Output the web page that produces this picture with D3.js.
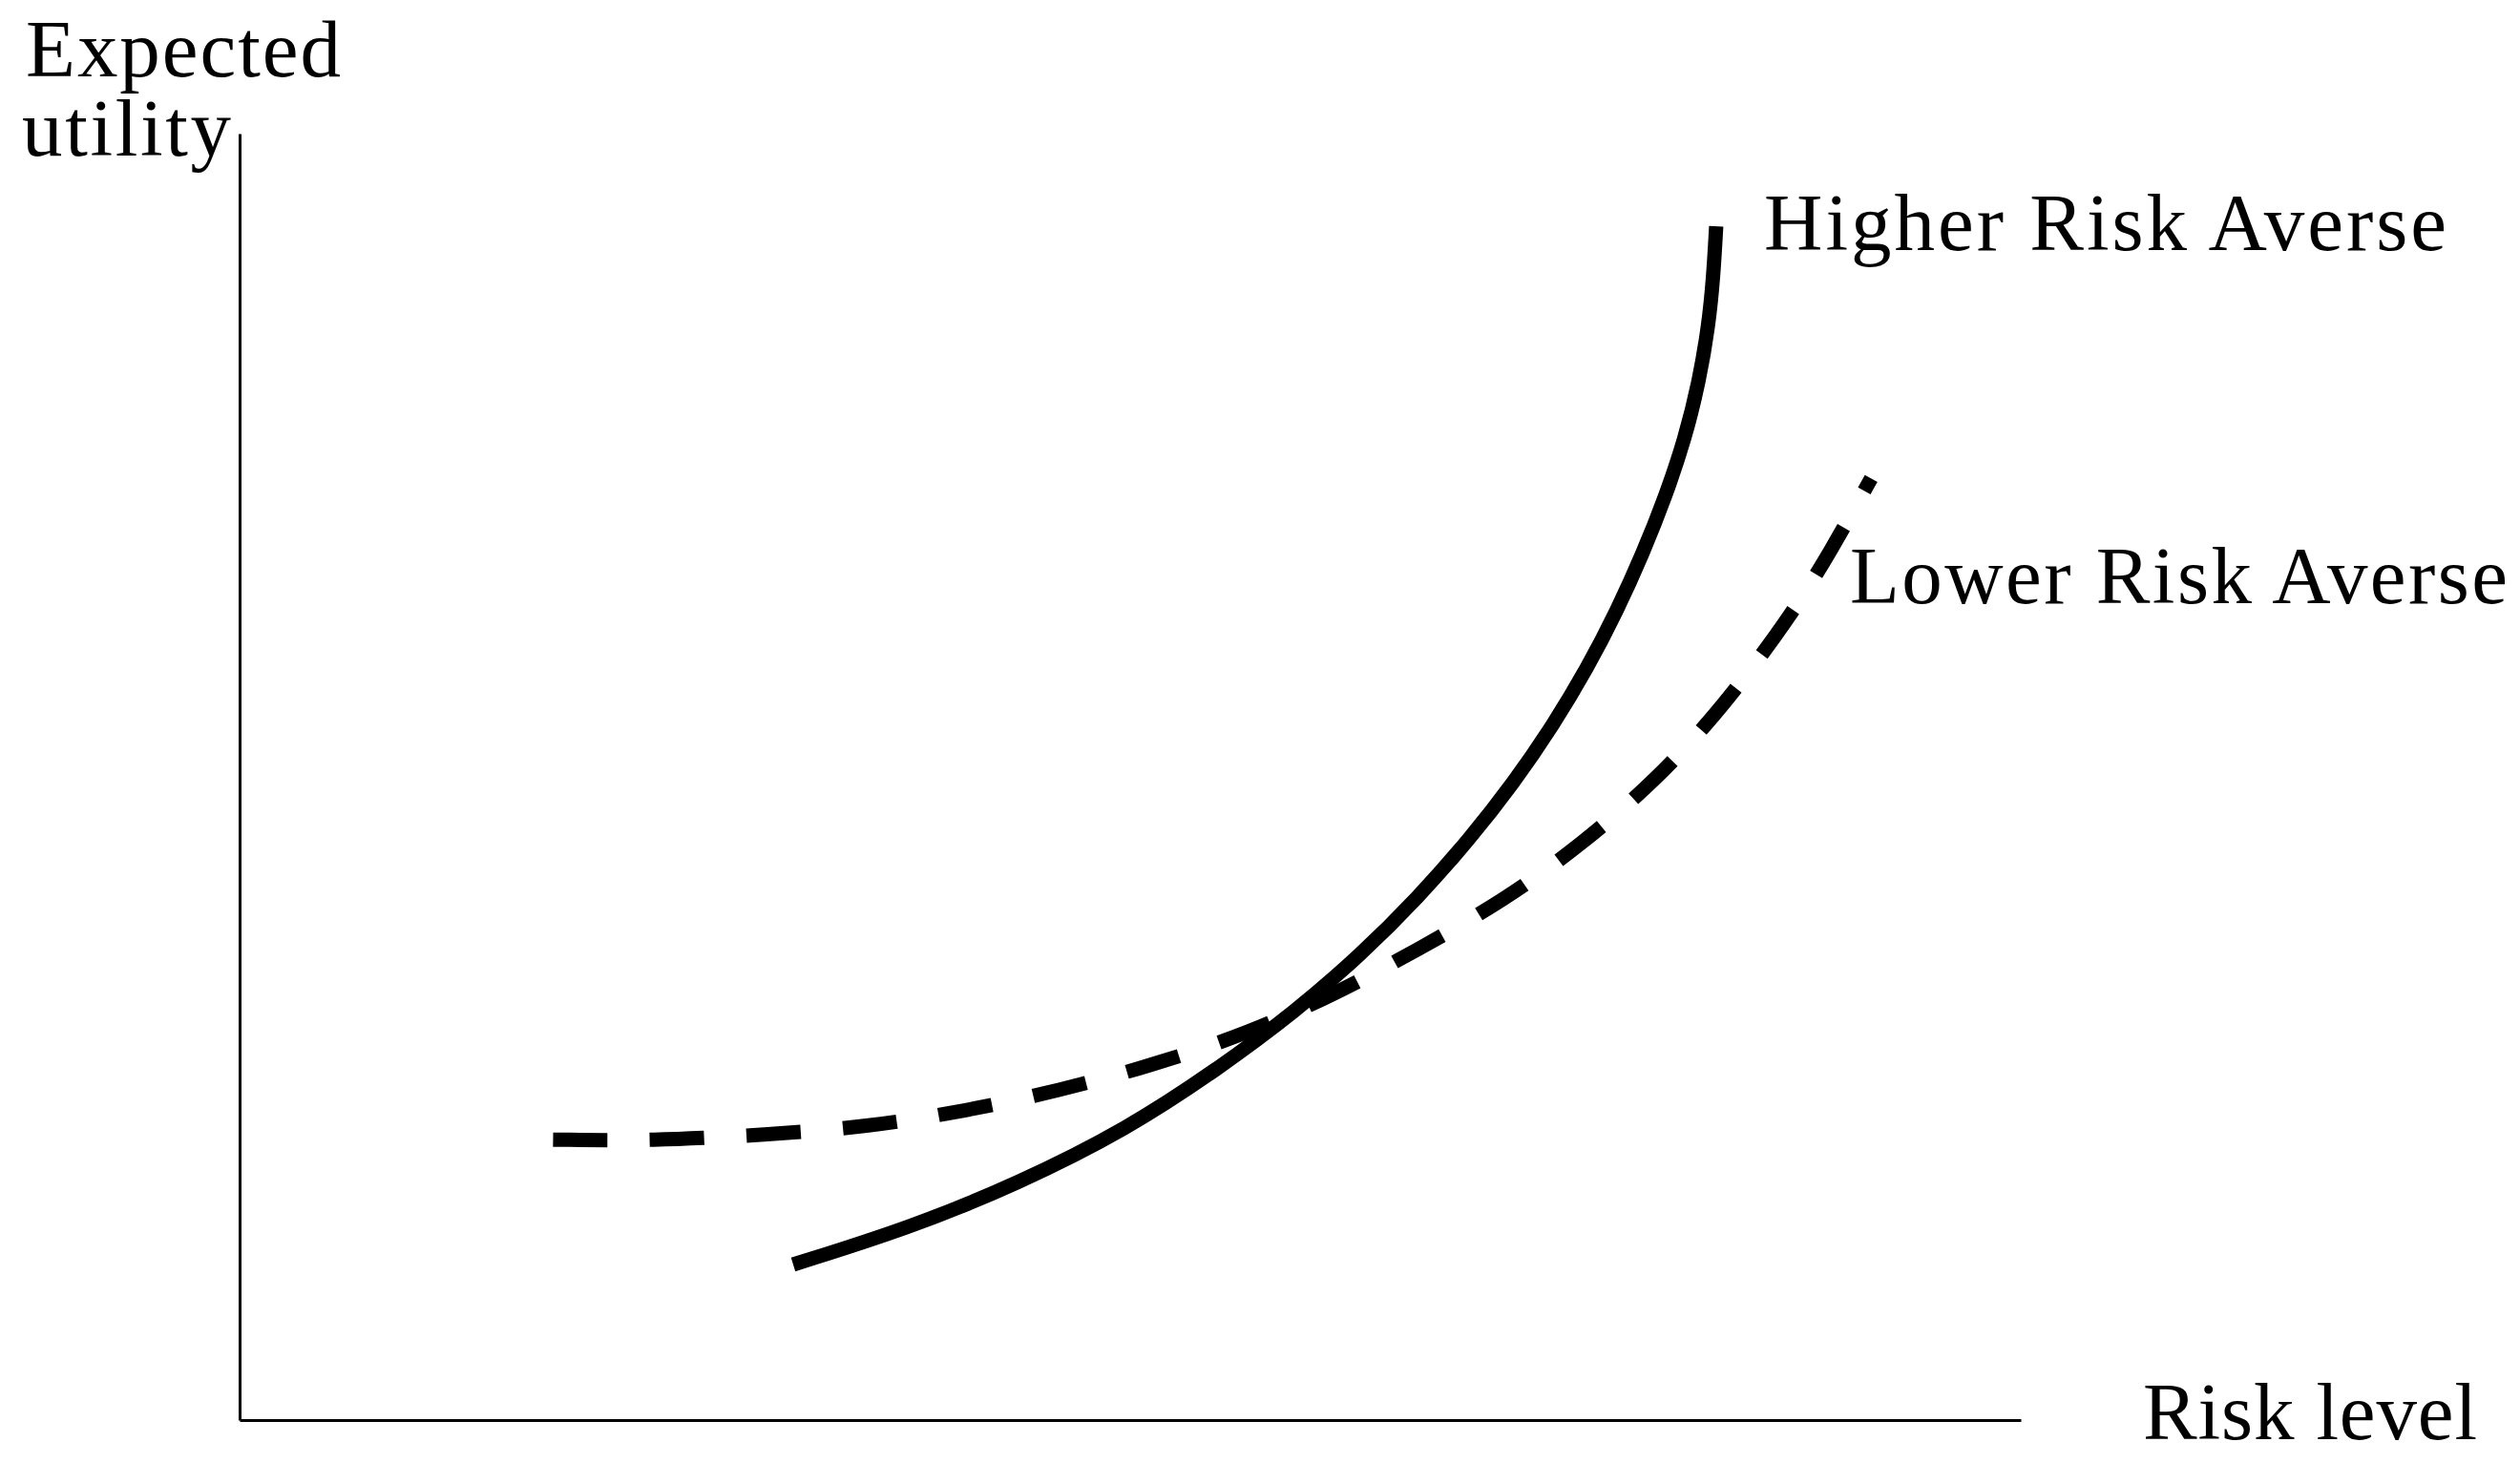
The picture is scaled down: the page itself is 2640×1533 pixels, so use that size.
<!DOCTYPE html>
<html>
<head>
<meta charset="utf-8">
<script src="https://cdn.jsdelivr.net/npm/d3@7"></script>
<style>
  html, body { margin: 0; padding: 0; background: #fff; }
</style>
</head>
<body>
<div class="chart"></div>
<script>
// risk level (x) and expected utility (y), in axis units 0-100
var higherRisk = [31.08, 37.57, 43.73, 49.84, 54.93, 59.27, 62.97, 66.18, 69.02, 71.54, 73.74, 75.67, 77.33, 78.78, 80.06, 81.14, 81.94, 82.48, 82.74, 82.90];
var higherUtil = [12.09, 14.91, 18.40, 22.63, 27.30, 31.75, 36.20, 40.65, 45.10, 49.55, 54.01, 58.46, 62.91, 67.36, 71.81, 76.26, 80.71, 85.16, 88.87, 92.80];

var lowerRisk = [17.6, 23.0, 29.9, 35.3, 40.7, 46.0, 51.3, 56.5, 61.5, 66.2, 71.0, 75.3, 79.5, 83.2, 87.0, 89.4, 91.6];
var lowerUtil = [21.8, 21.7, 22.2, 22.8, 24.0, 25.6, 27.6, 30.0, 33.1, 36.6, 40.4, 44.7, 49.7, 55.3, 62.3, 67.7, 73.2];

var seriesNames = ["Higher Risk Averse", "Lower Risk Averse"];
var yTitle = ["Expected", "utility"];
var xTitle = "Risk level";

function init(){
  var w = 2640;
  var h = 1533;

  var svg = d3.select(".chart")
              .append("svg")
              .attr("width", w)
              .attr("height", h)
              .style("font-family", "'Liberation Serif', serif");

  var x = d3.scaleLinear()
            .domain([0, 100])
            .range([251, 2117]);

  var y = d3.scaleLinear()
            .domain([0, 100])
            .range([1488, 140]);

  // axes: plain lines, no ticks
  var xAxis = d3.axisBottom(x).tickValues([]).tickSizeOuter(0);
  var yAxis = d3.axisLeft(y).tickValues([]).tickSizeOuter(0);

  svg.append("g")
      .attr("transform", "translate(0," + y(0) + ")")
      .call(xAxis)
      .select(".domain")
        .attr("stroke", "#000")
        .attr("stroke-width", 3);

  svg.append("g")
      .attr("transform", "translate(" + x(0) + ",0)")
      .call(yAxis)
      .select(".domain")
        .attr("stroke", "#000")
        .attr("stroke-width", 3);

  var line = d3.line()
               .x(function(d){ return x(d[0]); })
               .y(function(d){ return y(d[1]); })
               .curve(d3.curveBasis);

  var higher = d3.zip(higherRisk, higherUtil);
  var lower = d3.zip(lowerRisk, lowerUtil);

  var dashed = svg.append("path")
      .datum(lower)
      .attr("d", line)
      .attr("fill", "none")
      .attr("stroke", "#000")
      .attr("stroke-width", 15);

  // stretch the gap a little so the curve ends on a short dash, like the original
  var len = dashed.node().getTotalLength();
  var n = Math.round((len - 15) / 102);
  var period = (len - 15) / n;
  dashed.attr("stroke-dasharray", "57," + (period - 57));

  svg.append("path")
      .datum(higher)
      .attr("d", line)
      .attr("fill", "none")
      .attr("stroke", "#000")
      .attr("stroke-width", 15);

  var fs = 85;

  function label(txt, px, py, len){
    svg.append("text")
        .attr("x", px)
        .attr("y", py)
        .attr("font-size", fs)
        .attr("fill", "#000")
        .attr("textLength", len)
        .attr("lengthAdjust", "spacing")
        .text(txt);
  }

  label(yTitle[0], 27, 80, 330);
  label(yTitle[1], 23, 163, 219);
  label(seriesNames[0], 1848, 262, 715);
  label(seriesNames[1], 1938, 632, 689);
  label(xTitle, 2245, 1508, 350);
}

window.onload = init;
</script>
</body>
</html>
